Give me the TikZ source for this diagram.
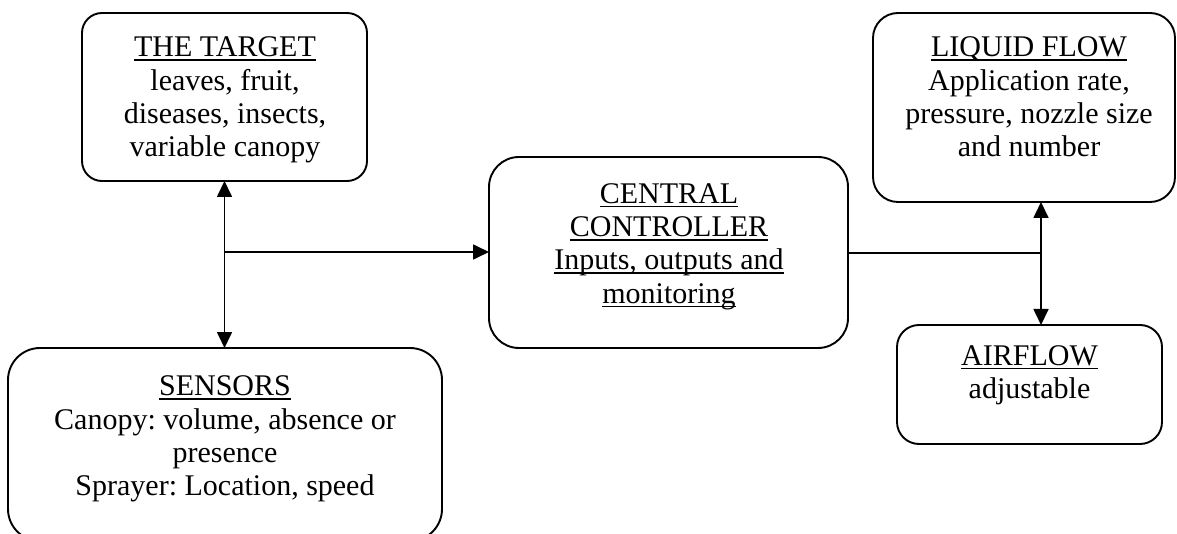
\documentclass[tikz,border=0pt]{standalone}
\usepackage{fontspec}
\setmainfont{Liberation Serif}
\usetikzlibrary{arrows.meta}
\frenchspacing

% underlined heading line with a heavier rule
\newsavebox{\uheadbox}
\newcommand{\uhead}[1]{\sbox{\uheadbox}{#1}\rlap{\rule[-4.2pt]{\wd\uheadbox}{1.7pt}}\usebox{\uheadbox}}
% fixes the height of the first line so text nodes can be placed by baseline
\newcommand{\lineprop}{\rule{0pt}{24pt}}

\tikzset{
  box/.style={draw, line width=1.9pt, inner sep=0pt, outer sep=0pt},
  txt/.style={anchor=north, inner sep=0pt, outer sep=0pt, align=center,
              font=\fontsize{30}{33.3}\selectfont},
  link/.style={line width=1.7pt},
  onehead/.style={link, -{Triangle[length=16pt,width=15pt]}},
  twoheads/.style={link, {Triangle[length=16pt,width=15pt]}-{Triangle[length=16pt,width=15pt]}}
}

\begin{document}
\begin{tikzpicture}[x=1pt, y=-1pt]
  \clip (0,0) rectangle (1177,534);
  \fill[white] (0,0) rectangle (1177,534);

  % boxes
  \node[box, rounded corners=20pt, minimum width=285pt, minimum height=168pt] (target) at (224.5,97) {};
  \node[box, rounded corners=32pt, minimum width=434pt, minimum height=193pt] (sensors) at (225,444.5) {};
  \node[box, rounded corners=30pt, minimum width=359pt, minimum height=191pt] (central) at (668.5,252.5) {};
  \node[box, rounded corners=25pt, minimum width=302pt, minimum height=189pt] (liquid) at (1024,107.5) {};
  \node[box, rounded corners=22pt, minimum width=265pt, minimum height=119pt] (airflow) at (1029.5,384.5) {};

  % texts
  \node[txt] (targettext) at (225,33) {\lineprop\uhead{THE TARGET}\\leaves, fruit,\\diseases, insects,\\variable canopy};
  \node[txt] (sensorstext) at (225,371.7) {\lineprop\uhead{SENSORS}\\Canopy: volume, absence or\\presence\\Sprayer: Location, speed};
  \node[txt] (centraltext) at (669,179.3) {\lineprop\uhead{CENTRAL}\\\uhead{CONTROLLER}\\\uhead{Inputs, outputs and}\\\uhead{monitoring}};
  \node[txt] (liquidtext) at (1029,33) {\lineprop\uhead{LIQUID FLOW}\\Application rate,\\pressure, nozzle size\\and number};
  \node[txt] (airflowtext) at (1029.5,341) {\lineprop\uhead{AIRFLOW}\\adjustable};

  % connectors
  \coordinate (leftjoin) at (225,252);
  \coordinate (rightjoin) at (1041,253);
  \draw[twoheads] (target.south) -- (target.south |- sensors.north);
  \draw[onehead] (leftjoin) -- (leftjoin -| central.west);
  \draw[link] (rightjoin -| central.east) -- (rightjoin);
  \draw[twoheads] (rightjoin |- liquid.south) -- (rightjoin |- airflow.north);
\end{tikzpicture}
\end{document}
